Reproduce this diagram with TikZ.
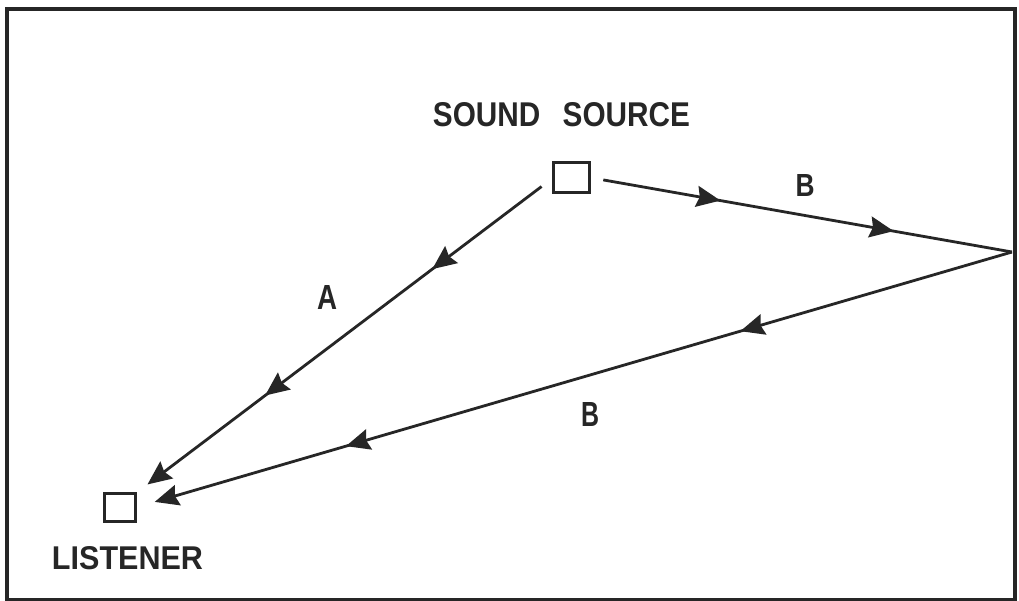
\documentclass[tikz,border=0pt]{standalone}
\usepackage{fontspec}
\setmainfont{Liberation Sans}
\usepackage{graphicx}
\usetikzlibrary{arrows.meta,decorations.markings,calc}
\begin{document}
\begin{tikzpicture}[x=1pt,y=-1pt,
  ink/.style={draw=black!85, line width=2.8pt},
  lbl/.style={inner sep=0pt, outer sep=0pt, anchor=center, text=black!85, font=\bfseries},
  boxnode/.style={draw=black!85, line width=3pt, inner sep=0pt, outer sep=0pt},
]
\tikzset{bigtip/.tip={Stealth[length=24pt,width=21pt,inset=3pt]}}
\useasboundingbox (0,0) rectangle (1019,601);
\fill[white] (0,0) rectangle (1019,601);
\draw[draw=black!85, line width=4pt] (6.5,9) rectangle (1014.5,599.5);

\node[boxnode, minimum width=36pt, minimum height=30pt] (src) at (571.5,177.5) {};
\node[boxnode, minimum width=31pt, minimum height=28pt] (lis) at (120,507.5) {};
\coordinate (refl) at (1012,252);

\node[lbl] (srclabel) at (561.5,115) {\resizebox{257pt}{24pt}{SOUND\hspace{0.75em}SOURCE}};
\node[lbl] (lislabel) at (127.5,558.5) {\resizebox{151pt}{23pt}{LISTENER}};
\node[lbl] (la) at (327,297.5) {\resizebox{20pt}{24pt}{A}};
\node[lbl] (lb1) at (805,185.5) {\resizebox{19pt}{22pt}{B}};
\node[lbl] (lb2) at (590,414.5) {\resizebox{18pt}{24pt}{B}};

% path A
\draw[ink, shorten <=15pt, shorten >=15pt, -bigtip,
  postaction={decorate, decoration={markings,
    mark=at position 0.29 with {\arrow[black!85]{bigtip}},
    mark=at position 0.69 with {\arrow[black!85]{bigtip}}}}]
  (src.west) -- (lis.north east);

% path B, outgoing
\draw[ink, shorten <=14pt,
  postaction={decorate, decoration={markings,
    mark=at position 0.31 with {\arrow[black!85]{bigtip}},
    mark=at position 0.72 with {\arrow[black!85]{bigtip}}}}]
  (src.east) -- (refl);

% path B, reflected
\draw[ink, shorten >=20pt, -bigtip,
  postaction={decorate, decoration={markings,
    mark=at position 0.31 with {\arrow[black!85]{bigtip}},
    mark=at position 0.76 with {\arrow[black!85]{bigtip}}}}]
  (refl) -- (lis.east);
\end{tikzpicture}
\end{document}
